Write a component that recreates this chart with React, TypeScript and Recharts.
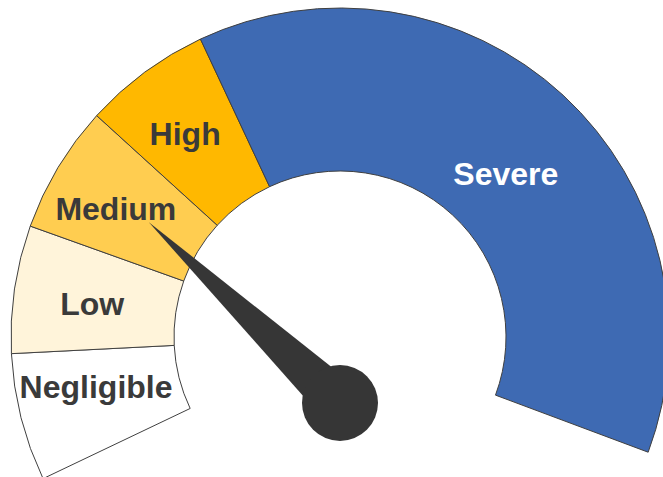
import React from 'react';
import { PieChart, Pie, Cell } from 'recharts';

// ---- data ----
const categories = ['Negligible', 'Low', 'Medium', 'High', 'Severe'];
const bandValues = [10, 10, 10, 10, 60];
const needleValue = 25;

// ---- styles ----
const bandColors = ['#FFFFFF', '#FFF4DA', '#FFCD50', '#FFB800', '#3E6AB3'];
const labelColors = ['#3A3A3A', '#3A3A3A', '#3A3A3A', '#3A3A3A', '#FFFFFF'];
const labelNudge: Record<string, [number, number]> = {
  Negligible: [-4, -11],
  Low: [-3, 3],
  Medium: [-12, -1],
  High: [-8, -4],
  Severe: [-2, 18],
};

const W = 663;
const H = 477;
const CX = 340;
const CY = 337;
const INNER = 166;
const OUTER = 329;
const START = 205.5;
const END = -20.5;
const RAD = Math.PI / 180;

const data = categories.map((name, i) => ({ name, value: bandValues[i] }));
const total = bandValues.reduce((a, b) => a + b, 0);

const renderNeedle = (cx: number, cy: number) => {
  const angle = START - (needleValue / total) * (START - END);
  const tipR = 223;
  const tx = cx + tipR * Math.cos(-angle * RAD);
  const ty = cy + tipR * Math.sin(-angle * RAD);
  const hx = cx;
  const hy = cy + 66;
  const dx = tx - hx;
  const dy = ty - hy;
  const len = Math.sqrt(dx * dx + dy * dy);
  const px = (-dy / len) * 23;
  const py = (dx / len) * 23;
  return (
    <g>
      <polygon
        points={`${tx},${ty} ${hx + px},${hy + py} ${hx - px},${hy - py}`}
        fill="#363636"
      />
      <circle cx={hx} cy={hy} r={38} fill="#363636" />
    </g>
  );
};

const renderLabel = (props: any) => {
  const { cx, cy, midAngle, innerRadius, outerRadius, index, name } = props;
  const r = (innerRadius + outerRadius) / 2;
  const [nx, ny] = labelNudge[name] || [0, 0];
  const x = cx + r * Math.cos(-midAngle * RAD) + nx;
  const y = cy + r * Math.sin(-midAngle * RAD) + ny;
  return (
    <g>
      {index === 0 ? renderNeedle(cx, cy) : null}
      <text
        x={x}
        y={y + 11.5}
        textAnchor="middle"
        fill={labelColors[index]}
        fontFamily="'Liberation Sans', Arial, sans-serif"
        fontWeight="bold"
        fontSize={32}
      >
        {name}
      </text>
    </g>
  );
};

export default function App() {
  return (
    <div style={{ position: 'absolute', left: 0, top: 0, width: W, height: H, overflow: 'hidden', background: '#fff' }}>
      <PieChart width={W} height={H} margin={{ top: 0, right: 0, bottom: 0, left: 0 }}>
        <Pie
          data={data}
          dataKey="value"
          nameKey="name"
          cx={CX}
          cy={CY}
          innerRadius={INNER}
          outerRadius={OUTER}
          startAngle={START}
          endAngle={END}
          paddingAngle={0}
          isAnimationActive={false}
          label={renderLabel}
          labelLine={false}
        >
          {data.map((d, i) => (
            <Cell key={d.name} fill={bandColors[i]} stroke="#404040" strokeWidth={1} />
          ))}
        </Pie>
      </PieChart>
    </div>
  );
}
